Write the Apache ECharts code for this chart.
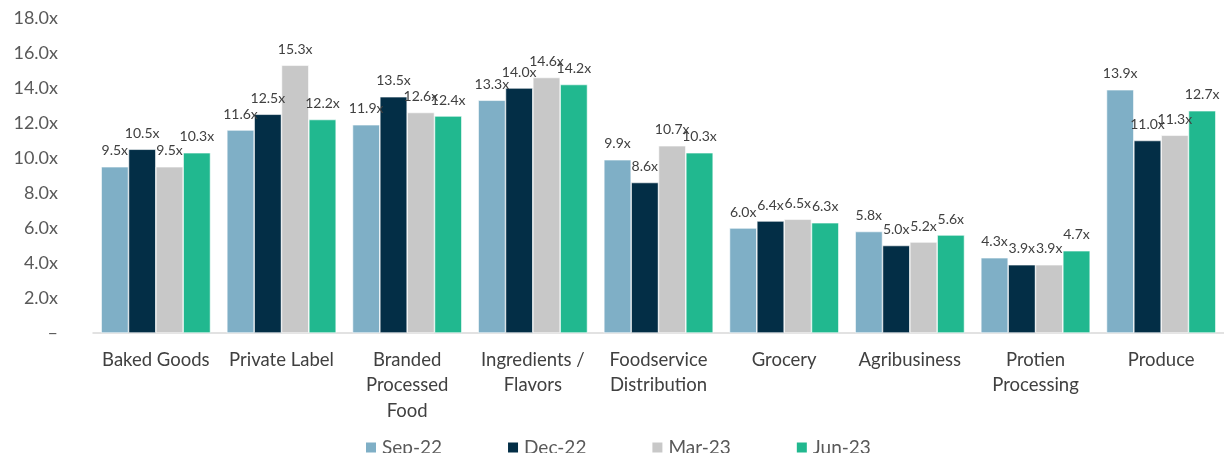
<!DOCTYPE html>
<html>
<head>
<meta charset="utf-8">
<script src="https://cdn.jsdelivr.net/npm/echarts@6/dist/echarts.min.js"></script>
<style>
    html, body {margin: 0; padding: 0; background: #fff;}
    #chart {width: 1224px; height: 453px;}
</style>
</head>
<body>
<div id="chart"></div>
<script>
const categories = ['Baked Goods', 'Private Label', 'Branded\nProcessed\nFood', 'Ingredients /\nFlavors',
    'Foodservice\nDistribution', 'Grocery', 'Agribusiness', 'Protien\nProcessing', 'Produce'];
const seriesNames = ['Sep-22', 'Dec-22', 'Mar-23', 'Jun-23'];
const sep22 = [9.5, 11.6, 11.9, 13.3, 9.9, 6.0, 5.8, 4.3, 13.9];
const dec22 = [10.5, 12.5, 13.5, 14.0, 8.6, 6.4, 5.0, 3.9, 11.0];
const mar23 = [9.5, 15.3, 12.6, 14.6, 10.7, 6.5, 5.2, 3.9, 11.3];
const jun23 = [10.3, 12.2, 12.4, 14.2, 10.3, 6.3, 5.6, 4.7, 12.7];
const colors = ['#7fafc6', '#032e46', '#c8c8c8', '#21b88f'];

const font = 'Lato, "Open Sans", sans-serif';
const chart = echarts.init(document.getElementById('chart'));

function makeSeries(name, data, color) {
    return {
        name: name,
        type: 'bar',
        data: data,
        barGap: '0%',
        barCategoryGap: '13%',
        itemStyle: {color: color, borderColor: '#ffffff', borderWidth: 0.6},
        label: {
            show: true,
            position: 'top',
            distance: 9,
            color: '#404040',
            fontFamily: font,
            fontSize: 14,
            formatter: p => p.value.toFixed(1) + 'x',
        },
    };
}

chart.setOption({
    animation: false,
    color: colors,
    grid: {left: 93, top: 18, width: 1139, height: 315},
    legend: {
        left: 364,
        top: 438,
        padding: 0,
        itemWidth: 12,
        itemHeight: 12,
        itemGap: 64,
        icon: 'rect',
        textStyle: {fontFamily: font, fontSize: 19, color: '#595959'},
        data: seriesNames,
    },
    xAxis: {
        type: 'category',
        data: categories,
        axisLine: {lineStyle: {color: '#d9d9d9', width: 1.5}},
        axisTick: {show: false},
        axisLabel: {
            interval: 0,
            margin: 14,
            color: '#404040',
            fontFamily: font,
            fontSize: 18.5,
            lineHeight: 25.5,
        },
    },
    yAxis: {
        type: 'value',
        min: 0,
        max: 18,
        interval: 2,
        splitLine: {show: false},
        axisLine: {show: false},
        axisTick: {show: false},
        axisLabel: {
            margin: 35,
            color: '#595959',
            fontFamily: font,
            fontSize: 18,
            formatter: v => v === 0 ? '–' : v.toFixed(1) + 'x',
        },
    },
    series: [
        makeSeries(seriesNames[0], sep22, colors[0]),
        makeSeries(seriesNames[1], dec22, colors[1]),
        makeSeries(seriesNames[2], mar23, colors[2]),
        makeSeries(seriesNames[3], jun23, colors[3]),
    ],
});
</script>
</body>
</html>
